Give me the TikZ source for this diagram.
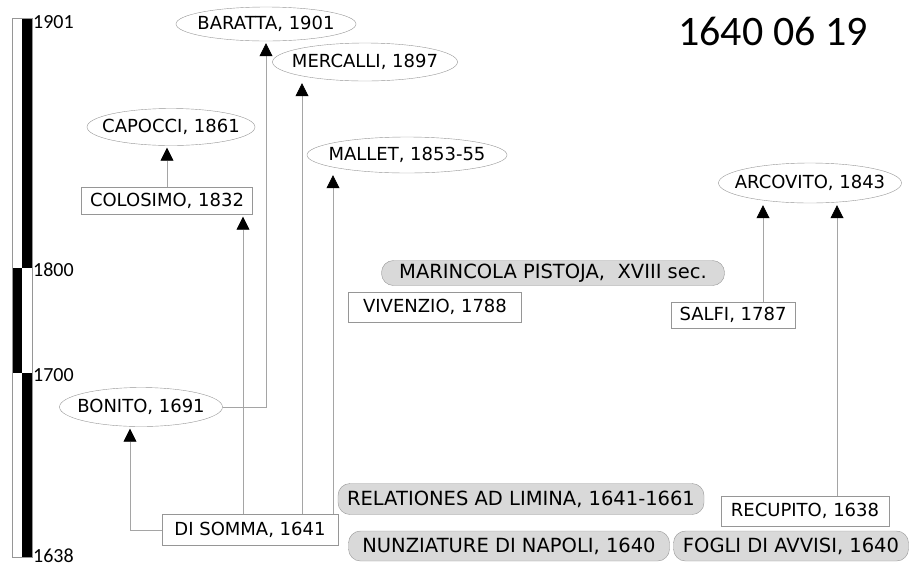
\documentclass[tikz,border=0pt]{standalone}
\usepackage{fontspec}
\usepackage{tikz}
\usetikzlibrary{shapes.geometric, arrows.meta}
\newfontfamily\boxfont{DejaVu Sans}
\newfontfamily\yearfont{Carlito}
\definecolor{pillgray}{RGB}{217,217,217}
\definecolor{edgegray}{RGB}{150,150,150}
\definecolor{linkgray}{RGB}{165,165,165}

\begin{document}
\begin{tikzpicture}[x=1pt, y=-1pt,
    oval/.style={ellipse, draw=edgegray, fill=white, inner xsep=-25pt, inner ysep=-5pt,
      font=\boxfont\fontsize{18}{20}\selectfont},
    src/.style={rectangle, draw=edgegray, fill=white, inner sep=0pt,
      font=\boxfont\fontsize{18}{20}\selectfont},
    pill/.style={rectangle, rounded corners=12pt, draw=edgegray, fill=pillgray, inner sep=0pt,
      font=\boxfont\fontsize{19.5}{21}\selectfont},
    yr/.style={anchor=west, inner sep=0pt, font=\yearfont\fontsize{20}{22}\selectfont},
    link/.style={draw=linkgray, line width=0.8pt, shorten >=2pt,
      -{Triangle[color=black, length=13pt, width=13pt]}}]
            \useasboundingbox (0,0) rectangle (912,566);
            % time bar
            \fill[black] (22,18) rectangle (32,268);
            \fill[black] (12,268) rectangle (22,373);
            \fill[black] (22,373) rectangle (32,557);
            \draw[edgegray, line width=0.6pt] (12,18) rectangle (32,557);
            \node[yr] (y1901) at (33,22) {1901};
            \node[yr] (y1800) at (33,270) {1800};
            \node[yr] (y1700) at (33,375) {1700};
            \node[yr] (y1638) at (33,556) {1638};
            \node[font=\yearfont\fontsize{42}{44}\selectfont, inner sep=0pt] (title) at (773,31) {1640 06 19};
            % sources
            \node[oval, minimum width=180, minimum height=34] (baratta) at (266,24) {BARATTA, 1901};
            \node[oval, minimum width=185, minimum height=38] (mercalli) at (365,62) {MERCALLI, 1897};
            \node[oval, minimum width=168, minimum height=37] (capocci) at (171,127) {CAPOCCI, 1861};
            \node[oval, minimum width=200, minimum height=36] (mallet) at (407,155) {MALLET, 1853-55};
            \node[src, minimum width=171, minimum height=27] (colosimo) at (167,201) {COLOSIMO, 1832};
            \node[oval, minimum width=183, minimum height=40] (arcovito) at (810,183) {ARCOVITO, 1843};
            \node[pill, minimum width=343, minimum height=25] (marincola) at (553,273) {MARINCOLA PISTOJA,\ \ XVIII sec.};
            \node[src, minimum width=173, minimum height=30] (vivenzio) at (435,307) {VIVENZIO, 1788};
            \node[src, minimum width=124, minimum height=26] (salfi) at (733,315) {SALFI, 1787};
            \node[oval, minimum width=163, minimum height=39] (bonito) at (141,407) {BONITO, 1691};
            \node[pill, minimum width=366, minimum height=31] (relationes) at (521,499) {RELATIONES AD LIMINA, 1641-1661};
            \node[src, minimum width=168, minimum height=30] (recupito) at (805,511) {RECUPITO, 1638};
            \node[src, minimum width=176, minimum height=31] (disomma) at (250,530) {DI SOMMA, 1641};
            \node[pill, minimum width=321, minimum height=30] (nunziature) at (509,546) {NUNZIATURE DI NAPOLI, 1640};
            \node[pill, minimum width=235, minimum height=30] (fogli) at (791,546) {FOGLI DI AVVISI, 1640};
            % columns of the links
            \coordinate (colA) at (243,0);
            \coordinate (colB) at (302,0);
            \coordinate (colC) at (333,0);
            \coordinate (colD) at (130,0);
            \coordinate (colE) at (763,0);
            \coordinate (colF) at (837,0);
            \draw[link] (colosimo.north) -- (colosimo.north |- capocci.south);
            \draw[link] (disomma.north -| colA) -- (colosimo.south -| colA);
            \draw[link] (disomma.north -| colB) -- (mercalli.south -| colB);
            \draw[link] (disomma.north -| colC) -- (mallet.south -| colC);
            \draw[link] (disomma.west) -| (bonito.south -| colD);
            \draw[link] (bonito.east) -| (baratta.south);
            \draw[link] (salfi.north -| colE) -- (arcovito.south -| colE);
            \draw[link] (recupito.north -| colF) -- (arcovito.south -| colF);
        \end{tikzpicture}
\end{document}
